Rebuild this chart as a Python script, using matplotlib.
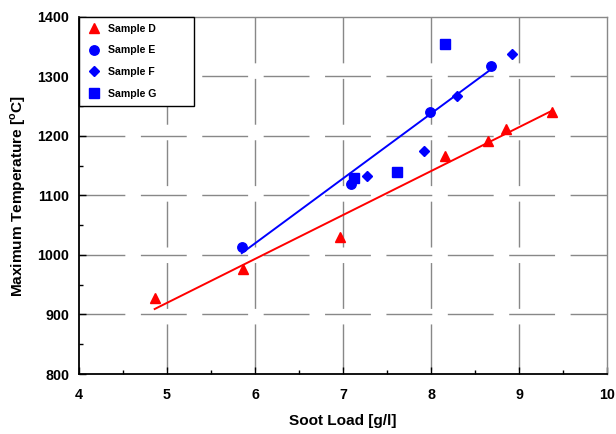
import numpy as np
import matplotlib
matplotlib.use("Agg")
import matplotlib.pyplot as plt
from matplotlib.ticker import MultipleLocator

plt.rcParams['font.family'] = ['Liberation Sans', 'DejaVu Sans']
plt.rcParams['font.weight'] = 'bold'
plt.rcParams['mathtext.fontset'] = 'custom'
plt.rcParams['mathtext.bf'] = 'Liberation Sans:bold'
plt.rcParams['mathtext.rm'] = 'Liberation Sans:bold'

# Data
d_x = [4.86, 5.86, 6.97, 8.16, 8.65, 8.85, 9.37]
d_y = [928, 976, 1031, 1166, 1191, 1212, 1241]
e_x = [5.85, 7.09, 7.99, 8.68]
e_y = [1013, 1119, 1241, 1317]
f_x = [7.27, 7.92, 8.30, 8.92]
f_y = [1133, 1174, 1268, 1337]
g_x = [7.13, 7.61, 8.16]
g_y = [1129, 1140, 1355]

x_ticks = [4, 5, 6, 7, 8, 9, 10]
y_ticks = [800, 900, 1000, 1100, 1200, 1300, 1400]

fig = plt.figure(figsize=(6.16, 4.34), dpi=100)
ax = fig.add_axes([79/616, 1 - 374/434, (607-79)/616, (374-17)/434])

red = '#ff0000'
blue = '#0000ff'

ax.plot(d_x, d_y, linestyle='none', marker='^', ms=7.5, color=red, label='Sample D', zorder=3)
ax.plot(e_x, e_y, linestyle='none', marker='o', ms=6.8, color=blue, label='Sample E', zorder=3)
ax.plot(f_x, f_y, linestyle='none', marker='D', ms=5.2, color=blue, label='Sample F', zorder=3)
ax.plot(g_x, g_y, linestyle='none', marker='s', ms=6.5, color=blue, label='Sample G', zorder=3)

# linear trend lines
for xs, ys, c in [(d_x, d_y, red), (e_x, e_y, blue)]:
    p = np.polyfit(xs, ys, 1)
    xx = np.array([min(xs), max(xs)])
    ax.plot(xx, np.polyval(p, xx), color=c, lw=1.4, zorder=2)

ax.set_xlim(x_ticks[0], x_ticks[-1])
ax.set_ylim(y_ticks[0], y_ticks[-1])
ax.set_xticks(x_ticks)
ax.set_yticks(y_ticks)
ax.xaxis.set_minor_locator(MultipleLocator(0.5))
ax.yaxis.set_minor_locator(MultipleLocator(50))
ax.tick_params(which='both', direction='in', top=False, right=False, labelsize=10.3, color='black')
ax.tick_params(which='major', length=5, width=1)
ax.tick_params(which='minor', length=3, width=1)
ax.tick_params(axis='x', pad=10)
ax.tick_params(axis='y', pad=7)
for lab in ax.get_xticklabels() + ax.get_yticklabels():
    lab.set_fontweight('bold')

# dashed grid: vertical dashes start at the top, horizontal at the left
dash = (0, (33, 11.2))
ax.vlines(x_ticks[1:-1], y_ticks[-1], y_ticks[0], colors='#888888', lw=1,
          linestyles=[dash], zorder=1)
ax.hlines(y_ticks[1:-1], x_ticks[0], x_ticks[-1], colors='#888888', lw=1,
          linestyles=[dash], zorder=1)

for s in ['top', 'right']:
    ax.spines[s].set_color('#888888')
    ax.spines[s].set_linewidth(1)
for s in ['left', 'bottom']:
    ax.spines[s].set_color('black')
    ax.spines[s].set_linewidth(1.3)

ax.set_xlabel('Soot Load [g/l]', fontsize=11.1, fontweight='bold', labelpad=9)
ax.set_ylabel(r'Maximum Temperature [$^{\mathbf{o}}$C]', fontsize=11.1, fontweight='bold', labelpad=7)

leg = ax.legend(loc='upper left', bbox_to_anchor=(0, 1, 115/528, 0), mode='expand',
                borderaxespad=0,
                fancybox=False, framealpha=1, edgecolor='black',
                prop={'size': 7.6, 'weight': 'bold'},
                handlelength=1.5, handletextpad=0.6, labelspacing=1.1,
                borderpad=0.65)
leg.get_frame().set_linewidth(1)
leg.set_zorder(5)

fig.savefig('out.png', dpi=100)
